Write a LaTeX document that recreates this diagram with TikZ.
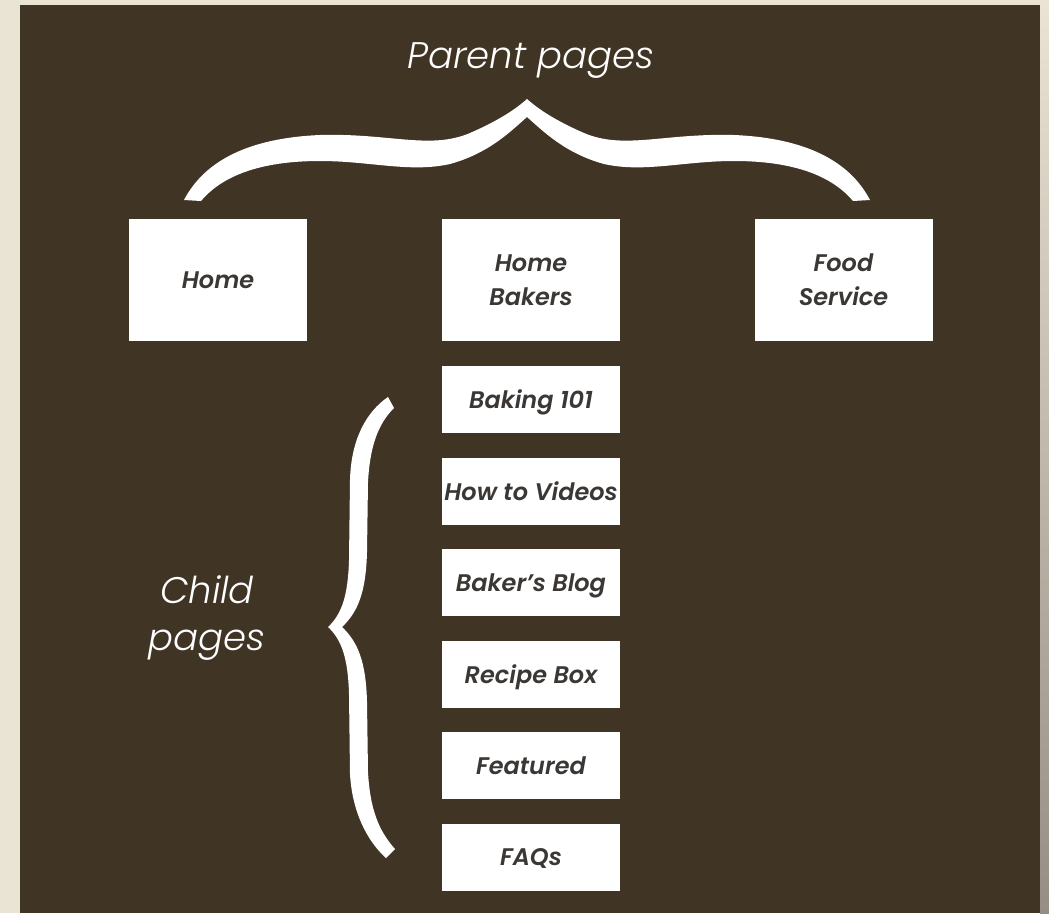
\documentclass[tikz,border=0pt]{standalone}
\usepackage{fontspec}
\setmainfont{Poppins}
\IfFontExistsTF{Poppins SemiBold Italic}
  {\newfontfamily\boxfont{Poppins SemiBold Italic}}
  {\newcommand\boxfont{\bfseries\itshape}}
\IfFontExistsTF{Poppins Light Italic}
  {\newfontfamily\capfont{Poppins Light Italic}}
  {\newcommand\capfont{\itshape}}
\definecolor{panelC}{RGB}{64,52,37}
\definecolor{frameC}{RGB}{234,228,212}
\definecolor{edgeC}{RGB}{148,142,132}
\definecolor{labelC}{RGB}{58,55,52}

\begin{document}
\begin{tikzpicture}[x=1pt, y=-1pt,
  page/.style={fill=white, draw=none, minimum width=178pt, inner sep=0pt,
               align=center, text=labelC, font=\boxfont\fontsize{24}{34}\selectfont},
  parent/.style={page, minimum height=122pt},
  child/.style={page, minimum height=67pt, text depth=0pt},
  brc/.style={fill=white, draw=none},
  ttl/.style={text=white, inner sep=0pt, align=center,
              font=\capfont\fontsize{37}{47}\selectfont},
]

% ---------------- background ----------------
\fill[frameC] (0,0) rectangle (1049,913);
\shade[top color=frameC, bottom color=edgeC] (1040,0) rectangle (1049,913);
\fill[panelC] (20,5) rectangle (1040,913);

% ---------------- parent pages ----------------
\node[parent, text depth=0pt] (home) at (218,280) {Home};
\node[parent] (bakers) at (531,280)   {Home\\Bakers};
\node[parent] (food)   at (843.5,280) {Food\\Service};

% ---------------- child pages ----------------
\foreach \lbl [count=\i] in {Baking 101, How to Videos, Baker’s Blog, Recipe Box, Featured, FAQs}
  \node[child] (kid\i) at (531, 308+91.5*\i) {\lbl};

% ---------------- captions ----------------
\node[ttl, anchor=base] (ptitle) at (531,68) {Parent pages};
\node[ttl] (ctitle) at (207,618) {Child\\pages};

% ---------------- braces ----------------
% top brace over the three parents
\fill[brc] (184,200) .. controls (205,160) and (250,138) .. (320,135)
  .. controls (390,133) and (430,150) .. (470,133)
  .. controls (500,120) and (517,108) .. (527,99)
  .. controls (537,108) and (554,120) .. (584,133)
  .. controls (624,150) and (664,133) .. (734,135)
  .. controls (804,138) and (849,160) .. (870,200)
  -- (853,201)
  .. controls (832,176) and (794,161) .. (734,161)
  .. controls (684,161) and (644,173) .. (604,164)
  .. controls (564,153) and (542,130) .. (527,117)
  .. controls (512,130) and (490,153) .. (450,164)
  .. controls (410,173) and (370,161) .. (320,161)
  .. controls (260,161) and (222,176) .. (201,201) -- cycle;

% side brace along the children
\fill[brc] (388,397) .. controls (366,412) and (351,440) .. (350,480)
  -- (349,560) .. controls (348,595) and (342,614) .. (328,627)
  .. controls (342,640) and (348,659) .. (349,694)
  -- (350,774) .. controls (352,810) and (366,840) .. (386,858)
  -- (395,849)
  .. controls (378,830) and (370,808) .. (368,772)
  -- (367,702) .. controls (366,662) and (358,642) .. (342,627)
  .. controls (358,612) and (366,592) .. (367,552)
  -- (368,482) .. controls (370,446) and (378,424) .. (394,408) -- cycle;

\end{tikzpicture}
\end{document}
